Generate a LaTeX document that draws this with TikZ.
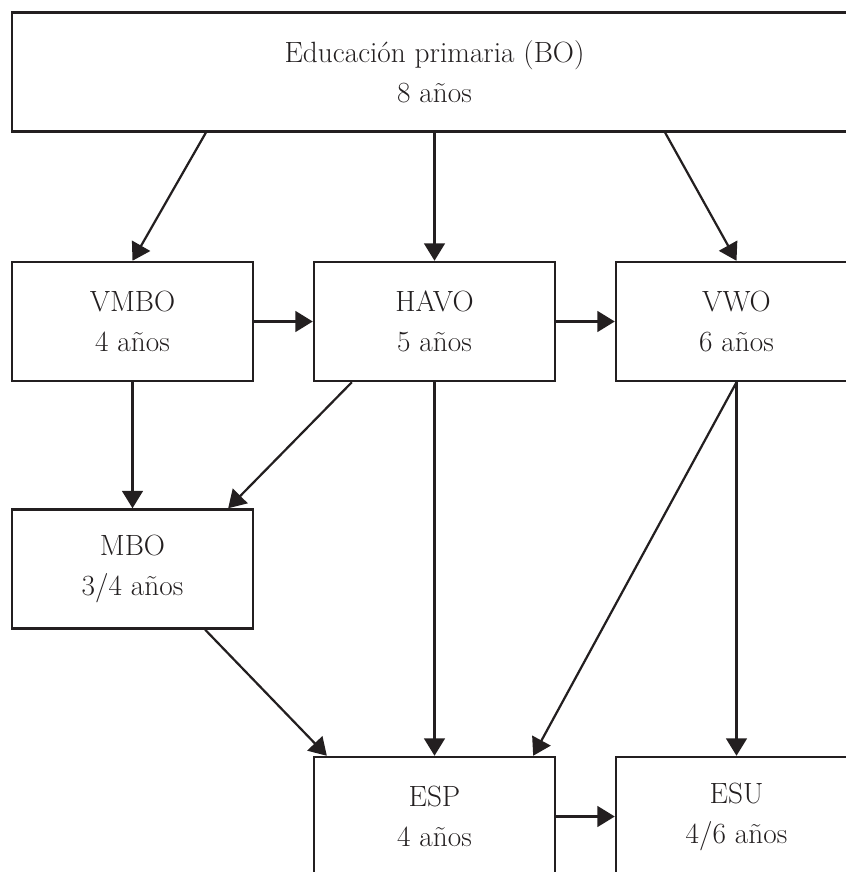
\documentclass[tikz,border=0pt]{standalone}
\usetikzlibrary{arrows.meta, positioning}
\definecolor{ink}{HTML}{231F20}

\begin{document}
\begin{tikzpicture}[
    x=0.03cm, y=-0.03cm,
    box/.style={draw=ink, line width=2.1pt, rectangle, inner sep=0pt, minimum width=7.23cm, minimum height=3.57cm, align=center, text=ink, font=\fontsize{25}{34}\selectfont},
    arrow/.style={draw=ink, line width=1.9pt, -{Triangle[length=0.52cm, width=0.62cm]}}
]
    \useasboundingbox (0,0) rectangle (846,872);
    \clip (0,0) rectangle (846,872);

    \node[box, minimum width=25.35cm] (bo) at (434.5,72) {Educación primaria (BO)\\8 años};

    \node[box] (vmbo) at (132.5,321.5) {VMBO\\4 años};
    \node[box] (havo) at (434.5,321.5) {HAVO\\5 años};
    \node[box] (vwo) at (736.5,321.5) {VWO\\6 años};

    \node[box] (mbo) at (132.5,569) {MBO\\3/4 años};

    \node[box] (esp) at (434.5,816.5) {ESP\\4 años};
    \node[box] (esu) at (736.5,816.5) {ESU\\4/6 años};

    \draw[arrow] ([xshift=-6.86cm]bo.south) -- (vmbo.north);
    \draw[arrow] (bo.south) -- (havo.north);
    \draw[arrow] ([xshift=6.92cm]bo.south) -- (vwo.north);

    \draw[arrow] (vmbo.east) -- (havo.west);
    \draw[arrow] (havo.east) -- (vwo.west);

    \draw[arrow] (vmbo.south) -- (mbo.north);
    \draw[arrow] ([xshift=-2.48cm]havo.south) -- ([xshift=2.87cm]mbo.north);
    \draw[arrow] (havo.south) -- (esp.north);
    \draw[arrow] (vwo.south) -- ([xshift=2.96cm]esp.north);
    \draw[arrow] (vwo.south) -- (esu.north);

    \draw[arrow] ([xshift=2.18cm]mbo.south) -- ([xshift=-3.23cm]esp.north);
    \draw[arrow] (esp.east) -- (esu.west);

\end{tikzpicture}
\end{document}
